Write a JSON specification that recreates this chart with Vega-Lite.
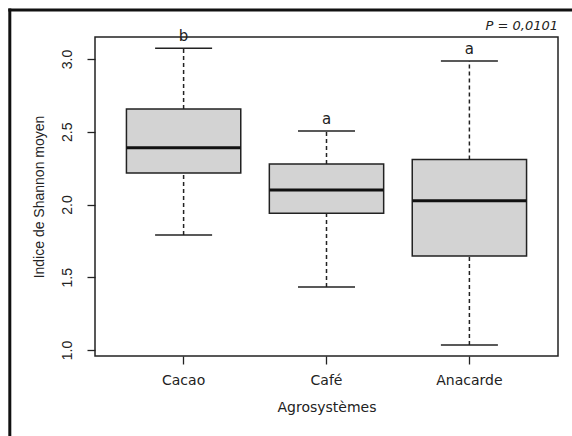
{
  "$schema": "https://vega.github.io/schema/vega-lite/v6.json",
  "width": 463,
  "height": 319,
  "autosize": {"type": "none"},
  "padding": {"left": 95, "top": 37, "right": 14, "bottom": 80},
  "background": "white",
  "config": {
    "view": {"stroke": "#222", "strokeWidth": 1.5},
    "axis": {"labelFont": "Liberation Sans", "titleFont": "Liberation Sans", "labelColor": "#222", "titleColor": "#222", "tickColor": "#222", "tickWidth": 1.3, "tickSize": 8, "grid": false, "domain": false, "titleFontWeight": "normal"}
  },
  "layer": [
    {
      "data": {"values": [
        {"cat": "Cacao", "min": 1.79, "q1": 2.216, "med": 2.39, "q3": 2.656, "max": 3.073, "letter": "b"},
        {"cat": "Café", "min": 1.433, "q1": 1.94, "med": 2.10, "q3": 2.278, "max": 2.505, "letter": "a"},
        {"cat": "Anacarde", "min": 1.034, "q1": 1.646, "med": 2.025, "q3": 2.31, "max": 2.986, "letter": "a"}
      ]},
      "encoding": {
        "x": {"field": "cat", "type": "nominal", "sort": ["Cacao", "Café", "Anacarde"],
          "scale": {"paddingInner": 0.2, "paddingOuter": 0.22},
          "axis": {"title": "Agrosystèmes", "labelAngle": 0, "labelFont": "DejaVu Sans", "labelFontSize": 14, "labelPadding": 9, "titleFont": "DejaVu Sans", "titleFontSize": 14, "titlePadding": 13}}
      },
      "layer": [
        {"mark": {"type": "rule", "strokeDash": [4, 3], "strokeWidth": 1.5, "color": "#222"},
          "encoding": {"y": {"field": "q3", "type": "quantitative", "scale": {"domain": [0.959, 3.151], "nice": false, "zero": false},
            "axis": {"title": "Indice de Shannon moyen", "values": [1, 1.5, 2, 2.5, 3], "format": ".1f", "labelAngle": -90, "labelAlign": "center", "labelBaseline": "bottom", "labelFontSize": 14, "labelPadding": 13, "titleFontSize": 14, "titlePadding": 14}},
            "y2": {"field": "max"}}},
        {"mark": {"type": "rule", "strokeDash": [4, 3], "strokeWidth": 1.5, "color": "#222"},
          "encoding": {"y": {"field": "min", "type": "quantitative"}, "y2": {"field": "q1"}}},
        {"mark": {"type": "tick", "size": 57, "thickness": 1.5, "color": "#222", "opacity": 1},
          "encoding": {"y": {"field": "max", "type": "quantitative"}}},
        {"mark": {"type": "tick", "size": 57, "thickness": 1.5, "color": "#222", "opacity": 1},
          "encoding": {"y": {"field": "min", "type": "quantitative"}}},
        {"mark": {"type": "bar", "fill": "#d3d3d3", "stroke": "#222", "strokeWidth": 1.5},
          "encoding": {"y": {"field": "q1", "type": "quantitative"}, "y2": {"field": "q3"}}},
        {"mark": {"type": "tick", "size": 114, "thickness": 3, "color": "#111", "opacity": 1},
          "encoding": {"y": {"field": "med", "type": "quantitative"}}},
        {"mark": {"type": "text", "baseline": "bottom", "dy": -4, "font": "DejaVu Sans", "fontSize": 15, "color": "#222"},
          "encoding": {"y": {"field": "max", "type": "quantitative"}, "text": {"field": "letter"}}}
      ]
    },
    {
      "data": {"values": [{"note": "P = 0,0101"}]},
      "layer": [
        {"mark": {"type": "rule", "strokeWidth": 3, "color": "#111", "strokeCap": "square"},
          "encoding": {
            "x": {"datum": -0.184, "type": "quantitative", "scale": {"domain": [0, 1]}, "axis": null},
            "y": {"datum": 1.085, "type": "quantitative", "scale": {"domain": [0, 1]}, "axis": null},
            "y2": {"datum": -0.4}}},
        {"mark": {"type": "rule", "strokeWidth": 3, "color": "#111", "strokeCap": "square"},
          "encoding": {
            "x": {"datum": -0.184, "type": "quantitative"},
            "x2": {"datum": 1.2},
            "y": {"datum": 1.085, "type": "quantitative"}}},
        {"mark": {"type": "text", "align": "right", "baseline": "bottom", "dy": -4, "font": "DejaVu Sans", "fontStyle": "italic", "fontSize": 13, "color": "#222"},
          "encoding": {
            "x": {"datum": 1, "type": "quantitative"},
            "y": {"datum": 1, "type": "quantitative"},
            "text": {"field": "note"}}}
      ]
    }
  ],
  "resolve": {"scale": {"x": "independent", "y": "independent"}, "axis": {"x": "independent", "y": "independent"}}
}
